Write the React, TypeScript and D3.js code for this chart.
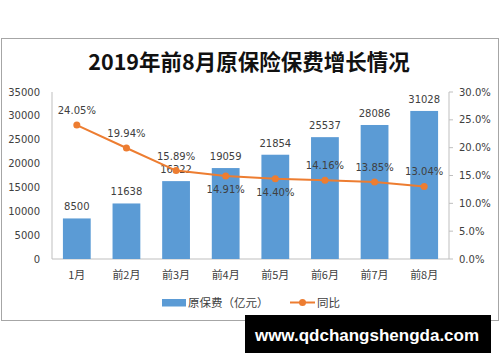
import * as d3 from 'd3';

const months = ['1月', '前2月', '前3月', '前4月', '前5月', '前6月', '前7月', '前8月'];
const premium = [8500, 11638, 16322, 19059, 21854, 25537, 28086, 31028];
const growth = [24.05, 19.94, 15.89, 14.91, 14.4, 14.16, 13.85, 13.04];
// label above (true) or below (false) the point
const growthAbove = [true, true, true, false, false, true, true, true];
const leftTicks = [0, 5000, 10000, 15000, 20000, 25000, 30000, 35000];
const rightTicks = [0, 5, 10, 15, 20, 25, 30];

const numFont = '"DejaVu Sans", sans-serif';
const cjkFont = '"Noto Sans CJK SC", sans-serif';

function App() {
  const width = 500;
  const height = 362;
  const left = 52;
  const right = 449;
  const top = 92;
  const bottom = 259;

  const x = d3.scaleBand().domain(months).range([left, right]).paddingInner(0.44).paddingOuter(0.22);
  const y = d3.scaleLinear().domain([0, 35000]).range([bottom, top]);
  const y2 = d3.scaleLinear().domain([0, 30]).range([bottom, top]);

  const cx = (m) => (x(m) ?? 0) + x.bandwidth() / 2;

  const line = d3
    .line<number>()
    .x((d, i) => cx(months[i]))
    .y((d) => y2(d));

  return (
    <svg width={width} height={height} style={{ position: 'absolute', left: 0, top: 0 }}>
      <rect x={0} y={0} width={width} height={height} fill='#fff' />
      <rect x={1.5} y={38.5} width={497} height={282} fill='#fff' stroke='#a6a6a6' />
      <text x={249} y={70} textAnchor='middle' fontFamily={cjkFont} fontWeight='bold' fontSize={21.5} fill='#111'>
        2019年前8月原保险保费增长情况
      </text>

      {/* axes */}
      <line x1={left} x2={left} y1={top} y2={bottom} stroke='#bfbfbf' />
      <line x1={right} x2={right} y1={top} y2={bottom} stroke='#bfbfbf' />
      <line x1={left} x2={right} y1={bottom} y2={bottom} stroke='#bfbfbf' />
      {leftTicks.map((t) => (
        <text key={t} x={40} y={y(t) + 3.5} textAnchor='end' fontFamily={numFont} fontSize={10} fill='#404040'>
          {t}
        </text>
      ))}
      {rightTicks.map((t) => (
        <g key={t}>
          <line x1={right} x2={right + 4} y1={y2(t)} y2={y2(t)} stroke='#bfbfbf' />
          <text x={459} y={y2(t) + 3.5} fontFamily={numFont} fontSize={10} fill='#404040'>
            {t.toFixed(1)}%
          </text>
        </g>
      ))}
      {months.map((m) => (
        <text key={m} x={cx(m)} y={279} textAnchor='middle' fontFamily={cjkFont} fontSize={11} fill='#404040'>
          {m}
        </text>
      ))}

      {/* bars */}
      {premium.map((v, i) => (
        <g key={months[i]}>
          <rect x={x(months[i])} y={y(v)} width={x.bandwidth()} height={bottom - y(v)} fill='#5b9bd5' />
          <text x={cx(months[i])} y={y(v) - 8} textAnchor='middle' fontFamily={numFont} fontSize={10} fill='#404040'>
            {v}
          </text>
        </g>
      ))}

      {/* growth line */}
      <path d={line(growth) ?? ''} fill='none' stroke='#ed7d31' strokeWidth={2} />
      {growth.map((g, i) => (
        <g key={months[i]}>
          <circle cx={cx(months[i])} cy={y2(g)} r={3.5} fill='#ed7d31' />
          <text
            x={cx(months[i])}
            y={growthAbove[i] ? y2(g) - 11 : y2(g) + 17}
            textAnchor='middle'
            fontFamily={numFont}
            fontSize={10}
            fill='#404040'
          >
            {g.toFixed(2)}%
          </text>
        </g>
      ))}

      {/* legend */}
      <rect x={162} y={299} width={24} height={7.5} fill='#5b9bd5' />
      <text x={188} y={306.5} fontFamily={cjkFont} fontSize={11.5} fill='#404040'>
        原保费（亿元）
      </text>
      <line x1={290} x2={315} y1={302.5} y2={302.5} stroke='#ed7d31' strokeWidth={2} />
      <circle cx={302.5} cy={302.5} r={3.5} fill='#ed7d31' />
      <text x={317} y={306.5} fontFamily={cjkFont} fontSize={11.5} fill='#404040'>
        同比
      </text>

      {/* watermark */}
      <rect x={245} y={315} width={246} height={38} fill='#000' />
      <text
        x={367}
        y={340.5}
        textAnchor='middle'
        fontFamily='"Liberation Sans", sans-serif'
        fontWeight='bold'
        fontSize={17}
        fill='#fff'
      >
        www.qdchangshengda.com
      </text>
    </svg>
  );
}

export default App;
